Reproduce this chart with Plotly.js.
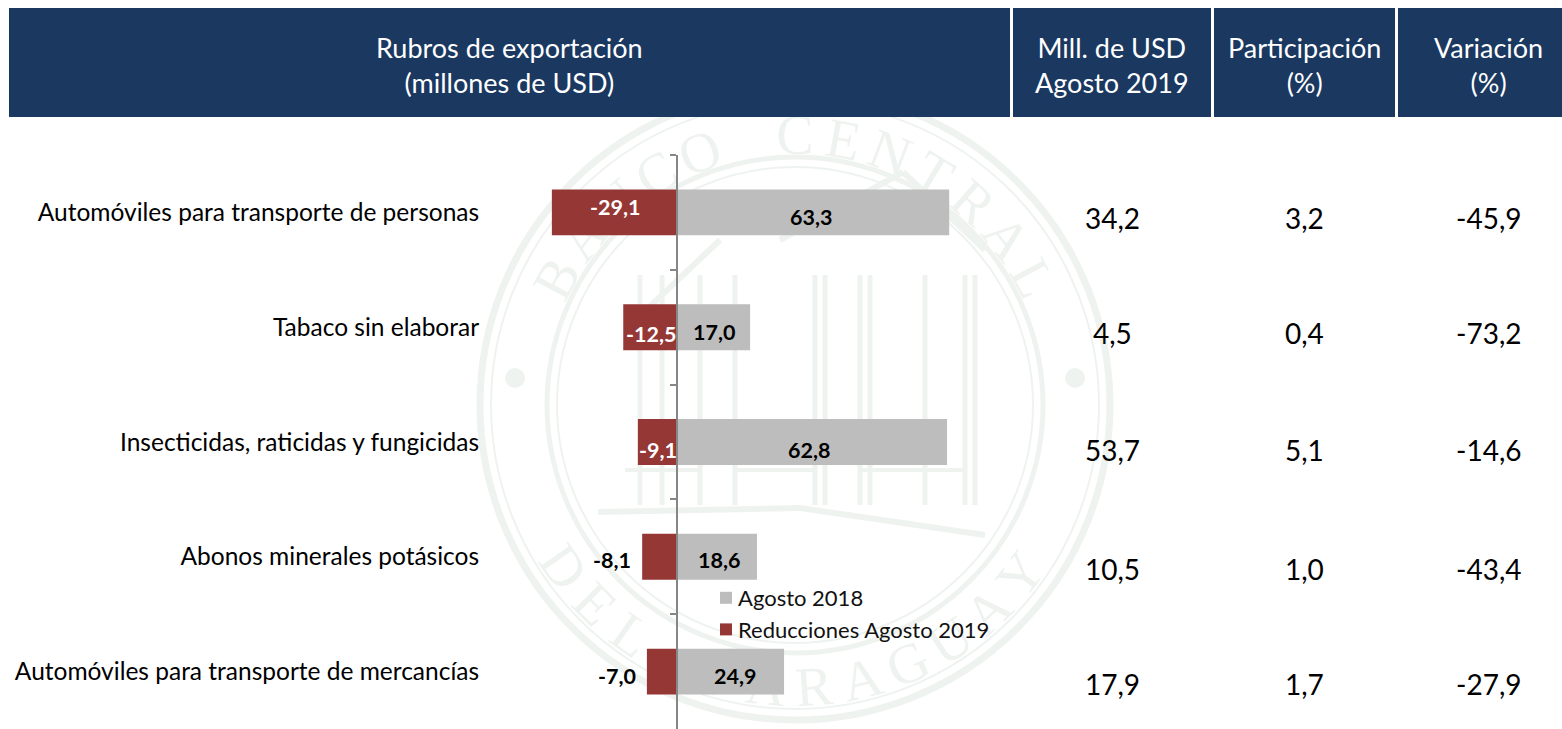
<!DOCTYPE html>
<html><head><meta charset="utf-8">
<script src="https://cdn.plot.ly/plotly-3.0.1.min.js"></script>
<style>html,body{margin:0;padding:0;background:#fff;overflow:hidden}#c{width:1562px;height:729px}</style>
</head><body><div id="c"></div>
<script>
// ---- data ----
const categories = ["Automóviles para transporte de personas","Tabaco sin elaborar","Insecticidas, raticidas y fungicidas","Abonos minerales potásicos","Automóviles para transporte de mercancías"];
const agosto2018 = [63.3,17.0,62.8,18.6,24.9];
const reducciones2019 = [-29.1,-12.5,-9.1,-8.1,-7.0];
const millUsd2019 = ["34,2","4,5","53,7","10,5","17,9"];
const participacion = ["3,2","0,4","5,1","1,0","1,7"];
const variacion = ["-45,9","-73,2","-14,6","-43,4","-27,9"];
const reductionLabelInside = [true,true,true,false,false];
const headers = ["Rubros de exportación<br>(millones de USD)","Mill. de USD<br>Agosto 2019","Participación<br>(%)","Variación<br>(%)"];
const seriesNames = ["Agosto 2018","Reducciones Agosto 2019"];

// ---- layout helpers (page pixels -> paper) ----
const W=1562,H=729;
const px=x=>x/W, py=y=>1-y/H;
const zeroPx=677, pxPerUnit=4.3;
const GRAY="#bdbdbd",RED="#953735",NAVY="#1a3860",INK="#000000",WM="#eff3f0";
const FONT="Lato, 'Open Sans', sans-serif";
const fmt=v=>v.toFixed(1).replace(".",",");

const shapes=[], annotations=[];
// watermark
const cx=795, cy=405;
[[315,7],[304,2],[248,5],[238,2]].forEach(([r,w])=>shapes.push({type:"circle",layer:"below",xref:"paper",yref:"paper",
  x0:px(cx-r),x1:px(cx+r),y0:py(cy+r),y1:py(cy-r),line:{color:WM,width:w}}));
[[515,378],[1075,378]].forEach(([x,y])=>shapes.push({type:"circle",layer:"below",xref:"paper",yref:"paper",
  x0:px(x-10),x1:px(x+10),y0:py(y+10),y1:py(y-10),fillcolor:WM,line:{width:0}}));
// building outline of the seal
const seg=(x0,y0,x1,y1,w)=>shapes.push({type:"line",layer:"below",xref:"paper",yref:"paper",x0:px(x0),x1:px(x1),y0:py(y0),y1:py(y1),line:{color:WM,width:w||5}});
[640,662,700,735,815,825,860,870,925,965,975].forEach(x=>seg(x,275,x,505));
seg(903,172,780,240,6); seg(903,172,985,250,6); seg(720,240,625,330,6); seg(598,512,800,508,6); seg(800,508,985,535,6);
[[625,470,700,470],[735,470,815,470],[860,470,965,470]].forEach(a=>seg(...a,4));
// seal lettering (labels on shapes so that they sit below the bars)
const letter=(x,y,ch,a)=>shapes.push({type:"rect",layer:"below",xref:"paper",yref:"paper",x0:px(x-1),x1:px(x+1),y0:py(y+1),y1:py(y-1),line:{width:0},fillcolor:"rgba(0,0,0,0)",
  label:{text:ch,textangle:a,textposition:"middle center",font:{family:"Liberation Serif",size:56,color:WM}}});
const topWord="BANCO CENTRAL", botWord="DEL PARAGUAY";
[...topWord].forEach((ch,i)=>{const a=-62+i*124/(topWord.length-1),t=a*Math.PI/180;
  letter(cx+276*Math.sin(t),cy-276*Math.cos(t),ch,a);});
[...botWord].forEach((ch,i)=>{const a=-55+i*108/(botWord.length-1),t=a*Math.PI/180;
  letter(cx+276*Math.sin(t),cy+276*Math.cos(t),ch,-a);});

// header band
const headerCols=[[9,1010],[1013,1211],[1214,1395],[1398,1562]];
const headerCentre=[509,1112,1304,1488];
headerCols.forEach(([a,b])=>shapes.push({type:"rect",layer:"below",xref:"paper",yref:"paper",x0:px(a),x1:px(b),y0:py(117),y1:py(8),fillcolor:NAVY,line:{width:0}}));
headers.forEach((t,i)=>annotations.push({xref:"paper",yref:"paper",showarrow:false,xanchor:"center",yanchor:"middle",x:px(headerCentre[i]),y:py(65),text:t,font:{family:FONT,size:27,color:"#fff"}}));

// table columns
const colX=[1112,1304,1488], rowShift=[6,6,8,12,12];
[millUsd2019,participacion,variacion].forEach((col,c)=>col.forEach((t,i)=>annotations.push({xref:"paper",yref:"y",showarrow:false,xanchor:"center",yanchor:"middle",
  x:px(colX[c]),y:categories[i],yshift:-rowShift[i],text:t,font:{family:FONT,size:28,color:INK}})));

// bar labels
const lab=(x,i,t,col,extra)=>annotations.push(Object.assign({xref:"x",yref:"y",showarrow:false,xanchor:"center",yanchor:"middle",x:x,y:categories[i],text:t,font:{family:FONT,size:21.5,weight:700,color:col}},extra));
const grayShift=[5,5,8,3,4], grayX=[-2,0,-3,2,4];
agosto2018.forEach((v,i)=>lab(v/2,i,fmt(v),INK,{yshift:-grayShift[i],xshift:grayX[i]}));
const redShift=[-5,7,8,3,4];
reducciones2019.forEach((v,i)=>{ if(reductionLabelInside[i]) lab(v/2,i,fmt(v),"#fff",{yshift:-redShift[i],xshift:1});
  else lab(v,i,fmt(v),INK,{xanchor:"right",xshift:-9,yshift:-redShift[i]}); });

const traces=[
 {type:"bar",orientation:"h",name:seriesNames[0],legendgroup:"a",y:categories,x:agosto2018,width:0.4,marker:{color:GRAY},hoverinfo:"x+y"},
 {type:"bar",orientation:"h",name:seriesNames[1],legendgroup:"b",y:categories,x:reducciones2019,width:0.4,marker:{color:RED},hoverinfo:"x+y"}
];
const layout={
 width:W,height:H,margin:{l:0,r:0,t:0,b:0},paper_bgcolor:"#fff",plot_bgcolor:"rgba(0,0,0,0)",
 barmode:"overlay",showlegend:true,shapes,annotations,separators:",.",
 font:{family:FONT,color:INK},
 xaxis:{range:[-zeroPx/pxPerUnit,(W-zeroPx)/pxPerUnit],visible:false,fixedrange:true},
 yaxis:{type:"category",categoryorder:"array",categoryarray:categories,autorange:false,range:[4.5,-0.5],domain:[0,py(155)],
   anchor:"free",position:px(zeroPx),showline:true,linecolor:"#868686",linewidth:2,ticks:"outside",ticklen:6,tickcolor:"#868686",tickwidth:2,tickson:"boundaries",
   showgrid:false,zeroline:false,ticklabelstandoff:192,tickfont:{family:FONT,size:24.5,color:INK},fixedrange:true},
 legend:{x:px(698),xanchor:"left",y:py(577),yanchor:"top",bgcolor:"rgba(0,0,0,0)",borderwidth:0,font:{family:FONT,size:22,color:"#111"},traceorder:"normal",itemclick:false,itemdoubleclick:false,
   tracegroupgap:13},
};
Plotly.newPlot("c",traces,layout,{displayModeBar:false,staticPlot:true}).then(gd=>{
  gd.querySelectorAll(".legend .legendsymbols").forEach(g=>g.setAttribute("transform","translate(8,0)"));
});
</script></body></html>
